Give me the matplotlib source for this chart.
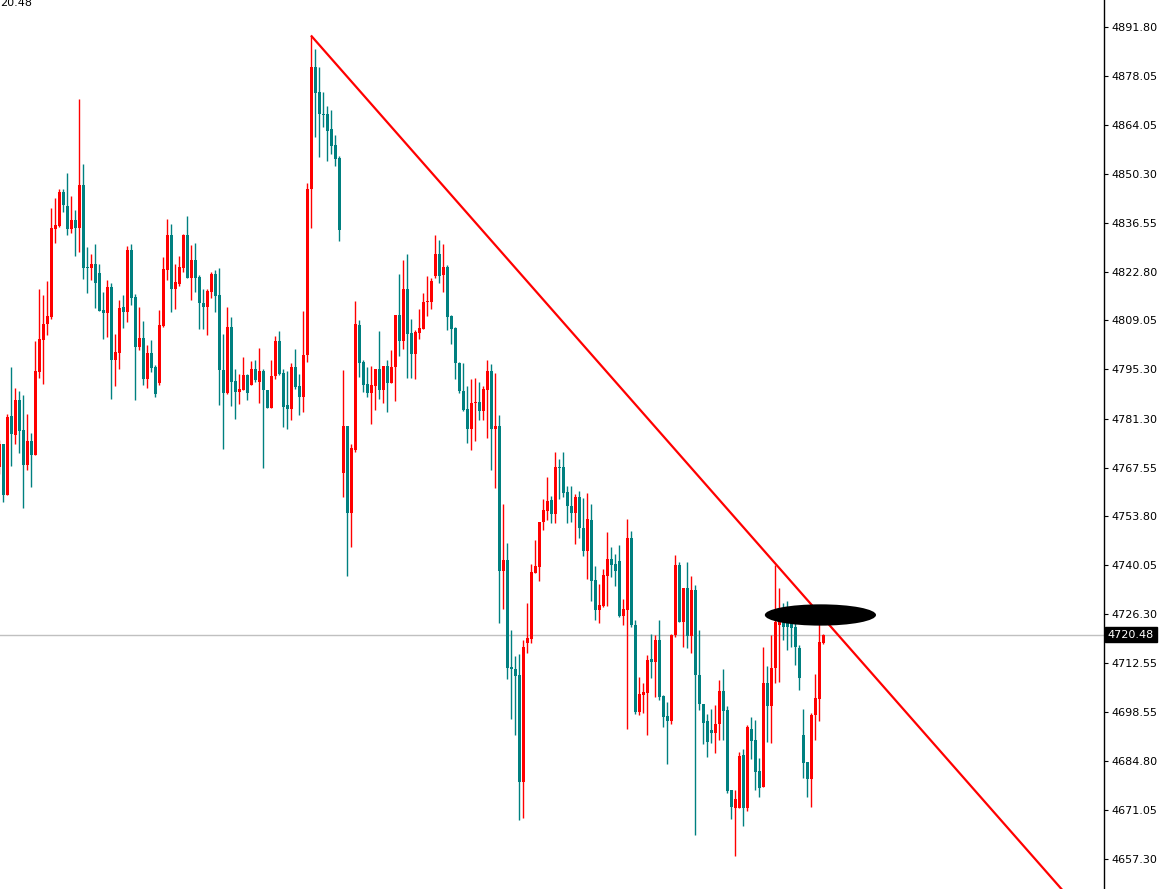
import numpy as np
import matplotlib
matplotlib.use("Agg")
import matplotlib.pyplot as plt
import matplotlib.transforms as mtransforms
from matplotlib.patches import Ellipse

# candle data (oldest -> newest)
opens = [4767.7, 4774.1, 4759.8, 4782.0, 4776.6, 4786.5, 4778.0, 4768.2, 4774.9, 4771.0,
         4794.5, 4803.4, 4807.9, 4810.0, 4834.7, 4835.6, 4845.2, 4841.2, 4834.8, 4837.3,
         4835.0, 4847.1, 4824.1, 4823.8, 4824.9, 4822.4, 4811.9, 4811.1, 4818.5, 4798.0,
         4799.8, 4812.8, 4811.4, 4828.8, 4815.6, 4801.5, 4804.0, 4792.5, 4799.8, 4795.9,
         4791.4, 4807.4, 4823.3, 4833.0, 4817.9, 4819.2, 4823.8, 4833.0, 4821.0, 4826.0,
         4821.3, 4813.9, 4812.8, 4817.0, 4822.0, 4816.1, 4795.1, 4788.6, 4807.1, 4791.9,
         4788.8, 4789.5, 4793.5, 4790.9, 4795.2, 4791.7, 4794.8, 4789.5, 4784.4, 4793.3,
         4803.2, 4794.2, 4785.1, 4784.1, 4795.9, 4790.4, 4787.3, 4799.2, 4846.0, 4880.5,
         4873.4, 4867.3, 4867.2, 4862.9, 4858.4, 4854.8, 4766.1, 4779.3, 4754.8, 4772.5,
         4807.7, 4797.2, 4791.1, 4788.7, 4790.6, 4795.3, 4789.4, 4796.2, 4791.5, 4795.8,
         4810.6, 4803.3, 4817.9, 4805.4, 4799.6, 4805.4, 4806.7, 4814.1, 4814.1, 4821.6,
         4827.8, 4821.8, 4824.0, 4810.3, 4806.9, 4796.9, 4789.1, 4784.0, 4778.4, 4785.7,
         4786.0, 4783.5, 4789.4, 4794.8, 4778.4, 4779.2, 4738.5, 4741.5, 4711.3, 4710.9,
         4709.0, 4678.9, 4718.2, 4719.2, 4737.9, 4739.6, 4752.3, 4755.3, 4758.4, 4754.6,
         4767.8, 4767.8, 4760.6, 4756.8, 4754.8, 4759.3, 4750.6, 4744.1, 4752.7, 4735.8,
         4727.5, 4728.5, 4737.0, 4741.7, 4740.3, 4741.3, 4725.7, 4727.5, 4747.8, 4723.1,
         4698.7, 4703.4, 4704.1, 4713.6, 4712.8, 4718.9, 4703.1, 4697.5, 4696.2, 4720.3,
         4740.1, 4724.1, 4733.7, 4720.0, 4733.0, 4709.2, 4700.9, 4696.2, 4693.5, 4692.8,
         4695.2, 4704.5, 4699.2, 4676.6, 4671.7, 4671.7, 4686.5, 4671.7, 4694.0, 4690.7,
         4682.0, 4677.6, 4706.9, 4700.4, 4711.0, 4723.2, 4724.6, 4724.1, 4723.6, 4722.7,
         4716.6, 4692.2, 4684.6, 4679.8, 4697.8, 4702.3, 4718.0]
highs = [4775.2, 4774.1, 4782.7, 4795.9, 4790.0, 4789.0, 4787.9, 4782.7, 4777.4, 4803.1,
         4817.8, 4816.1, 4820.1, 4840.6, 4843.4, 4846.2, 4846.2, 4850.5, 4844.0, 4840.1,
         4871.4, 4853.2, 4829.6, 4827.7, 4830.5, 4824.9, 4816.9, 4820.5, 4819.5, 4805.1,
         4814.7, 4816.1, 4830.1, 4830.5, 4816.6, 4812.8, 4808.9, 4802.1, 4803.4, 4796.5,
         4811.9, 4826.8, 4837.5, 4836.2, 4824.9, 4827.1, 4833.5, 4838.4, 4830.2, 4830.9,
         4821.7, 4818.0, 4817.8, 4822.7, 4823.2, 4823.8, 4805.1, 4812.8, 4809.9, 4795.2,
         4793.8, 4798.7, 4793.8, 4797.5, 4797.8, 4801.3, 4795.2, 4789.5, 4797.8, 4804.6,
         4806.0, 4795.2, 4794.7, 4797.0, 4801.0, 4793.8, 4811.6, 4847.8, 4889.1, 4885.5,
         4880.5, 4873.4, 4869.4, 4868.3, 4861.2, 4855.4, 4795.1, 4779.3, 4774.2, 4814.6,
         4809.2, 4797.9, 4795.8, 4796.3, 4795.3, 4805.9, 4796.2, 4797.9, 4800.7, 4810.6,
         4822.1, 4826.1, 4827.8, 4809.4, 4806.2, 4812.3, 4816.7, 4821.6, 4820.9, 4833.1,
         4831.7, 4830.6, 4824.7, 4810.6, 4807.3, 4797.4, 4796.9, 4790.5, 4792.5, 4792.9,
         4791.8, 4790.4, 4797.9, 4796.8, 4794.3, 4782.3, 4757.3, 4746.3, 4721.7, 4714.4,
         4715.1, 4718.9, 4729.4, 4740.3, 4747.1, 4752.3, 4758.7, 4765.0, 4759.6, 4772.0,
         4770.1, 4772.0, 4762.3, 4762.4, 4760.1, 4761.0, 4759.0, 4760.3, 4757.3, 4739.8,
         4734.7, 4739.1, 4749.3, 4745.2, 4743.2, 4745.7, 4730.6, 4753.0, 4749.6, 4724.5,
         4708.4, 4706.9, 4714.7, 4720.6, 4720.3, 4724.6, 4703.4, 4701.5, 4720.6, 4742.9,
         4741.0, 4733.7, 4741.0, 4737.0, 4734.4, 4721.7, 4700.9, 4698.1, 4699.6, 4700.6,
         4707.6, 4710.7, 4700.4, 4676.6, 4676.6, 4687.4, 4688.1, 4694.9, 4697.3, 4696.4,
         4685.8, 4717.1, 4711.6, 4720.4, 4740.1, 4733.5, 4729.3, 4729.9, 4728.0, 4724.6,
         4717.5, 4699.5, 4684.6, 4698.3, 4709.5, 4725.0, 4720.5]
lows = [4765.8, 4757.8, 4759.8, 4767.9, 4774.1, 4771.6, 4756.1, 4766.8, 4762.1, 4771.0,
        4792.8, 4791.2, 4805.0, 4809.5, 4830.9, 4835.4, 4839.6, 4833.0, 4833.7, 4827.1,
        4828.2, 4820.7, 4816.8, 4820.5, 4812.4, 4811.7, 4803.8, 4804.4, 4786.9, 4790.4,
        4795.4, 4806.9, 4808.6, 4813.3, 4786.6, 4800.6, 4790.9, 4790.0, 4794.4, 4787.4,
        4790.9, 4807.2, 4820.3, 4811.4, 4812.2, 4818.6, 4822.6, 4821.0, 4814.7, 4817.0,
        4806.7, 4806.7, 4805.0, 4815.4, 4811.4, 4785.1, 4772.9, 4788.4, 4784.9, 4781.2,
        4785.6, 4789.5, 4786.5, 4790.9, 4791.7, 4785.7, 4767.5, 4784.4, 4784.4, 4792.6,
        4793.5, 4779.0, 4778.5, 4781.0, 4789.8, 4782.3, 4783.2, 4797.3, 4835.1, 4860.8,
        4855.1, 4863.6, 4853.9, 4855.9, 4852.6, 4831.4, 4759.3, 4737.0, 4745.2, 4772.0,
        4793.2, 4788.8, 4787.3, 4779.8, 4783.8, 4786.9, 4785.8, 4783.3, 4791.5, 4786.3,
        4799.1, 4800.9, 4792.9, 4792.9, 4792.5, 4803.7, 4806.7, 4810.4, 4812.3, 4820.9,
        4819.7, 4816.9, 4806.2, 4802.4, 4792.5, 4788.5, 4783.5, 4774.6, 4772.5, 4775.1,
        4781.0, 4781.0, 4776.0, 4766.9, 4761.9, 4723.6, 4727.8, 4707.9, 4696.6, 4692.1,
        4668.1, 4668.8, 4715.3, 4718.0, 4737.9, 4735.6, 4749.9, 4752.7, 4751.8, 4752.0,
        4758.7, 4759.3, 4751.8, 4752.3, 4745.9, 4747.8, 4742.7, 4736.1, 4729.9, 4724.7,
        4723.8, 4728.3, 4728.6, 4736.8, 4734.2, 4725.5, 4723.1, 4694.0, 4722.7, 4698.2,
        4697.9, 4698.4, 4692.3, 4708.3, 4702.9, 4702.0, 4694.5, 4684.1, 4695.4, 4719.9,
        4724.1, 4717.0, 4716.6, 4715.3, 4664.1, 4699.2, 4689.5, 4686.0, 4690.0, 4687.0,
        4690.7, 4690.7, 4675.7, 4668.6, 4658.0, 4671.7, 4666.6, 4670.8, 4685.3, 4676.8,
        4674.6, 4677.6, 4690.2, 4689.8, 4706.9, 4707.2, 4718.9, 4716.1, 4717.1, 4711.9,
        4704.8, 4680.0, 4674.8, 4672.0, 4690.9, 4696.2, 4717.8]
closes = [4774.1, 4759.8, 4781.8, 4776.9, 4786.5, 4777.9, 4768.2, 4774.9, 4771.0, 4794.7,
          4803.7, 4807.9, 4810.2, 4835.0, 4835.8, 4845.2, 4841.6, 4834.8, 4837.3, 4835.0,
          4847.1, 4823.8, 4823.8, 4824.9, 4819.6, 4811.7, 4811.1, 4818.5, 4798.0, 4800.1,
          4812.4, 4811.4, 4828.8, 4815.4, 4801.5, 4804.0, 4792.5, 4799.8, 4795.6, 4788.3,
          4807.6, 4823.4, 4833.0, 4817.9, 4819.9, 4824.1, 4833.0, 4821.0, 4826.0, 4821.0,
          4813.8, 4812.8, 4817.2, 4822.0, 4815.9, 4795.1, 4788.6, 4807.1, 4791.7, 4788.8,
          4789.6, 4793.5, 4788.6, 4795.2, 4792.1, 4794.8, 4789.5, 4784.4, 4793.3, 4803.2,
          4794.0, 4784.6, 4784.1, 4795.9, 4790.3, 4787.3, 4799.2, 4846.0, 4880.5, 4873.2,
          4867.3, 4866.9, 4862.5, 4858.2, 4854.5, 4834.4, 4779.3, 4754.8, 4773.0, 4808.0,
          4797.1, 4790.8, 4788.7, 4790.8, 4795.3, 4789.4, 4796.2, 4791.5, 4795.8, 4810.6,
          4803.3, 4817.9, 4805.2, 4799.6, 4805.7, 4806.9, 4814.2, 4814.3, 4820.2, 4827.8,
          4821.6, 4824.0, 4810.1, 4806.6, 4796.9, 4789.1, 4783.8, 4778.4, 4785.7, 4786.0,
          4783.5, 4789.6, 4794.8, 4778.4, 4779.2, 4738.5, 4741.5, 4711.1, 4710.7, 4708.8,
          4678.9, 4717.0, 4719.4, 4738.2, 4739.9, 4752.3, 4755.6, 4758.1, 4754.6, 4767.8,
          4767.3, 4760.4, 4756.8, 4754.8, 4759.3, 4750.4, 4744.1, 4753.0, 4735.6, 4727.5,
          4728.8, 4737.2, 4741.7, 4740.0, 4738.5, 4725.7, 4727.6, 4747.8, 4723.1, 4698.7,
          4703.7, 4704.3, 4713.3, 4712.8, 4718.9, 4702.9, 4697.3, 4696.2, 4720.3, 4740.1,
          4724.1, 4733.7, 4720.0, 4733.0, 4709.2, 4700.8, 4695.6, 4690.2, 4692.8, 4695.2,
          4704.5, 4699.0, 4676.4, 4671.9, 4674.1, 4686.2, 4671.7, 4694.3, 4690.5, 4681.8,
          4677.3, 4706.9, 4700.4, 4711.0, 4724.1, 4727.5, 4722.6, 4722.7, 4722.4, 4717.1,
          4708.1, 4684.4, 4679.8, 4697.8, 4702.5, 4718.4, 4720.48]

price_ticks = [4891.80, 4878.05, 4864.05, 4850.30, 4836.55, 4822.80, 4809.05, 4795.30,
               4781.30, 4767.55, 4753.80, 4740.05, 4726.30, 4712.55, 4698.55, 4684.80,
               4671.05, 4657.30]
last_price = 4720.48

# resistance line drawn from the top high
trend_x = [78.1, 265.7]
trend_y = [4889.1, 4648.6]

# black marker (ellipse) where price touched the line
mark_x, mark_y = 205.3, 4726.0
mark_w, mark_h = 27.8, 6.0

up_color = "#ff0000"
down_color = "#008080"

o = np.array(opens)
h = np.array(highs)
l = np.array(lows)
c = np.array(closes)
x = np.arange(len(o))
colors = np.where(c >= o, up_color, down_color)

fig = plt.figure(figsize=(11.69, 8.89), dpi=100)
ax = fig.add_axes([0, 0, 1104 / 1169, 1])

# current price line
ax.axhline(last_price, color="#c0c0c0", lw=1, zorder=1)

# wicks then bodies
ax.vlines(x, l, h, colors=colors, lw=1.0, zorder=2)
body_low = np.minimum(o, c)
body_h = np.maximum(np.abs(c - o), 0.3)
ax.bar(x, body_h, bottom=body_low, width=0.78, color=colors, linewidth=0, zorder=3)

# trend line
ax.plot(trend_x, trend_y, color="#ff0000", lw=1.6, zorder=4)

ax.add_patch(Ellipse((mark_x, mark_y), mark_w, mark_h, facecolor="black",
                     edgecolor="none", zorder=5))

ax.set_xlim(0.175, 276.2)
ax.set_ylim(4648.77, 4899.33)

for side in ["top", "left", "bottom"]:
    ax.spines[side].set_visible(False)
ax.spines["right"].set_color("black")
ax.spines["right"].set_linewidth(1)

ax.set_xticks([])
ax.yaxis.tick_right()
ax.set_yticks(price_ticks)
ax.set_yticklabels([f"{v:.2f}" for v in price_ticks])
ax.tick_params(axis="y", length=3, width=0.8, pad=2, labelsize=8, colors="black")

# last price tag on the axis
trans = mtransforms.blended_transform_factory(ax.transAxes, ax.transData)
ax.annotate(f"{last_price:.2f}", xy=(1, last_price), xycoords=trans,
            xytext=(2.5, 0), textcoords="offset points", ha="left", va="center",
            fontsize=8, color="white",
            bbox=dict(boxstyle="square,pad=0.25", facecolor="black", edgecolor="black"),
            annotation_clip=False)

# header text at top-left (only its lower part shows in the terminal)
fig.text(0.0, 1 - 6 / 889, "20.48", fontsize=8, va="baseline", ha="left")

fig.savefig("out.png", dpi=100)
